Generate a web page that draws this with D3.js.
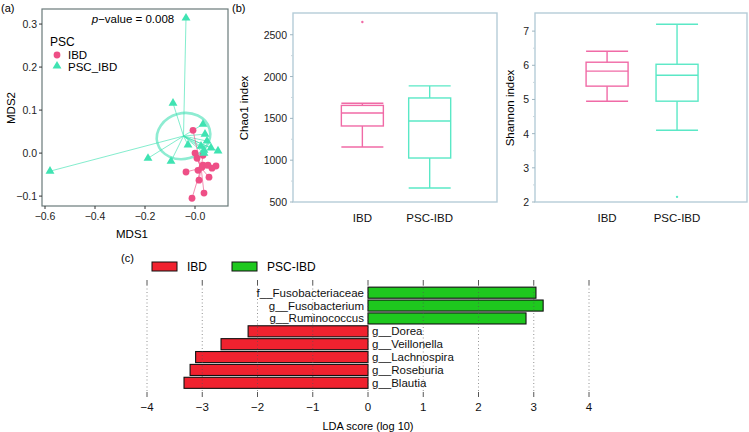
<!DOCTYPE html>
<html><head><meta charset="utf-8">
<script src="https://cdn.jsdelivr.net/npm/d3@7"></script>
<style>
body{margin:0;background:#fff}
svg{font-family:"Liberation Sans",Arial,Helvetica,sans-serif;display:block}
</style></head>
<body><svg id="c" width="749" height="432"></svg>
<script>
// ---------- DATA ----------
// (a) PCoA / MDS ordination
const ibdMDS1 = [-0.008, 0.000, 0.032, 0.008, 0.032, 0.052, 0.084, 0.068, -0.036, 0.012, 0.028, 0.056, 0.016, 0.036, -0.012];
const ibdMDS2 = [0.053, 0.000, -0.005, -0.012, -0.028, -0.028, -0.030, -0.035, -0.044, -0.040, -0.033, -0.056, -0.063, -0.093, -0.105];
const pscMDS1 = [-0.036, -0.088, 0.032, 0.040, 0.048, -0.028, 0.024, 0.064, 0.092, 0.036, -0.188, -0.096, -0.580, 0.036];
const pscMDS2 = [0.314, 0.116, 0.067, 0.044, 0.028, 0.019, 0.016, 0.012, 0.005, 0.007, -0.012, -0.019, -0.042, 0.000];
const pscEllipseRadii = [0.108, 0.053];
const mdsXTicks = [-0.6, -0.4, -0.2, 0.0];
const mdsXTickLabels = ["\u22120.6", "\u22120.4", "\u22120.2", "\u22120.0"];
const mdsYTicks = [0.3, 0.2, 0.1, 0.0, -0.1];
const mdsYTickLabels = ["0.3", "0.2", "0.1", "0.0", "\u22120.1"];
const legendGroups = ["IBD", "PSC_IBD"];

// (b) alpha diversity boxplots: [lowerWhisker, Q1, median, Q3, upperWhisker]
const boxGroups = ["IBD", "PSC-IBD"];
const chao1Stats = [[1158, 1409, 1565, 1655, 1680], [667, 1026, 1469, 1744, 1888]];
const chao1Outliers = [[2653], []];
const chao1Ticks = [500, 1000, 1500, 2000, 2500];
const shannonStats = [[4.95, 5.39, 5.83, 6.09, 6.41], [4.10, 4.95, 5.71, 6.03, 7.20]];
const shannonOutliers = [[], [2.15]];
const shannonTicks = [2, 3, 4, 5, 6, 7];

// (c) LEfSe LDA scores
const ldaTaxa = ["f__Fusobacteriaceae", "g__Fusobacterium", "g__Ruminococcus", "g__Dorea", "g__Veillonella", "g__Lachnospira", "g__Roseburia", "g__Blautia"];
const ldaScores = [3.04, 3.17, 2.86, -2.17, -2.66, -3.12, -3.22, -3.33];
const ldaTicks = [-4, -3, -2, -1, 0, 1, 2, 3, 4];
const ldaLegend = ["IBD", "PSC-IBD"];

// ---------- STYLE ----------
const pink = "#ee4f86", mint = "#3fe3b2", ellipseCol = "#8eecd2";
const boxPink = "#f06aa6", boxMint = "#5ae8c6";
const redBar = "#f0222f", greenBar = "#1ec81e";
const svg = d3.select("#c");

// ---------- (a) ----------
(function(){
  const L = 42, R = 228, T = 9, B = 206;
  const x = d3.scaleLinear().domain([-0.612, 0.132]).range([L, R]);
  const y = d3.scaleLinear().domain([-0.123, 0.335]).range([B, T]);
  const g = svg.append("g");
  g.append("text").attr("x", 1).attr("y", 12).attr("font-size", 11).text("(a)");
  g.append("rect").attr("x", L).attr("y", T).attr("width", R - L).attr("height", B - T)
    .attr("fill", "none").attr("stroke", "#6a7a7a").attr("stroke-width", 1.2);
  // ticks
  mdsXTicks.forEach((t, i) => {
    g.append("line").attr("x1", x(t)).attr("x2", x(t)).attr("y1", B).attr("y2", B + 3).attr("stroke", "#333");
    g.append("text").attr("x", x(t)).attr("y", B + 14).attr("text-anchor", "middle").attr("font-size", 10.5).attr("fill", "#222").text(mdsXTickLabels[i]);
  });
  mdsYTicks.forEach((t, i) => {
    g.append("line").attr("x1", L - 3).attr("x2", L).attr("y1", y(t)).attr("y2", y(t)).attr("stroke", "#333");
    g.append("text").attr("x", L - 5).attr("y", y(t) + 4).attr("text-anchor", "end").attr("font-size", 10.5).attr("fill", "#222").text(mdsYTickLabels[i]);
  });
  g.append("text").attr("x", 132).attr("y", 238).attr("text-anchor", "middle").attr("font-size", 11.5).text("MDS1");
  g.append("text").attr("transform", "translate(15,108) rotate(-90)").attr("text-anchor", "middle").attr("font-size", 11.5).text("MDS2");
  const pv = g.append("text").attr("x", 133).attr("y", 23).attr("text-anchor", "middle").attr("font-size", 11.5);
  pv.append("tspan").attr("font-style", "italic").text("p");
  pv.append("tspan").text("\u2212value = 0.008");

  const ibd = ibdMDS1.map((v, i) => [v, ibdMDS2[i]]);
  const psc = pscMDS1.map((v, i) => [v, pscMDS2[i]]);
  const cI = [d3.mean(ibdMDS1), d3.mean(ibdMDS2)];
  const cP = [d3.mean(pscMDS1), d3.mean(pscMDS2)];
  // ellipse
  g.append("ellipse").attr("cx", x(cP[0])).attr("cy", y(cP[1]))
    .attr("rx", x(cP[0] + pscEllipseRadii[0]) - x(cP[0])).attr("ry", y(cP[1]) - y(cP[1] + pscEllipseRadii[1]))
    .attr("fill", "none").attr("stroke", ellipseCol).attr("stroke-width", 2.6)
    .attr("transform", `rotate(-15 ${x(cP[0])} ${y(cP[1])})`);
  // spiders
  psc.forEach(p => g.append("line").attr("x1", x(cP[0])).attr("y1", y(cP[1])).attr("x2", x(p[0])).attr("y2", y(p[1]))
    .attr("stroke", mint).attr("stroke-width", 0.8).attr("opacity", 0.8));
  ibd.forEach(p => g.append("line").attr("x1", x(cI[0])).attr("y1", y(cI[1])).attr("x2", x(p[0])).attr("y2", y(p[1]))
    .attr("stroke", pink).attr("stroke-width", 0.8).attr("opacity", 0.8));
  const tri = d3.symbol().type(d3.symbolTriangle).size(34);
  ibd.forEach(p => g.append("circle").attr("cx", x(p[0])).attr("cy", y(p[1])).attr("r", 3.4).attr("fill", pink));
  psc.forEach(p => g.append("path").attr("d", tri).attr("transform", `translate(${x(p[0])},${y(p[1])})`).attr("fill", mint));
  // legend
  g.append("text").attr("x", 50).attr("y", 46).attr("font-size", 12).text("PSC");
  g.append("circle").attr("cx", 57).attr("cy", 55).attr("r", 3.4).attr("fill", pink);
  g.append("path").attr("d", tri).attr("transform", "translate(57,66)").attr("fill", mint);
  legendGroups.forEach((s, i) => g.append("text").attr("x", 68).attr("y", 59 + i * 11.5).attr("font-size", 11.5).text(s));
})();

// ---------- (b) ----------
function boxPanel(L, R, domain, ticks, stats, outliers, label, labelX, minor) {
  const T = 13, B = 202;
  const y = d3.scaleLinear().domain(domain).range([B, T]);
  const x = d3.scalePoint().domain(boxGroups).range([L + (R - L) * 0.34, L + (R - L) * 0.67]);
  const g = svg.append("g");
  g.append("rect").attr("x", L).attr("y", T).attr("width", R - L).attr("height", B - T)
    .attr("fill", "none").attr("stroke", "#b5ccd8").attr("stroke-width", 1.4);
  minor.forEach(t => g.append("line").attr("x1", L - 2).attr("x2", L).attr("y1", y(t)).attr("y2", y(t)).attr("stroke", "#c8d6dd"));
  ticks.forEach(t => {
    g.append("line").attr("x1", L - 3).attr("x2", L).attr("y1", y(t)).attr("y2", y(t)).attr("stroke", "#9fb5c0");
    g.append("text").attr("x", L - 6).attr("y", y(t) + 4).attr("text-anchor", "end").attr("font-size", 10.5).attr("fill", "#222").text(t);
  });
  g.append("text").attr("transform", `translate(${labelX},108) rotate(-90)`).attr("text-anchor", "middle").attr("font-size", 11.5).text(label);
  const w = 42;
  boxGroups.forEach((grp, i) => {
    const s = stats[i], cx = x(grp), col = i === 0 ? boxPink : boxMint;
    const gg = g.append("g").attr("stroke", col).attr("stroke-width", 1.4).attr("fill", "none");
    gg.append("line").attr("x1", cx).attr("x2", cx).attr("y1", y(s[0])).attr("y2", y(s[1]));
    gg.append("line").attr("x1", cx).attr("x2", cx).attr("y1", y(s[3])).attr("y2", y(s[4]));
    gg.append("line").attr("x1", cx - w / 2).attr("x2", cx + w / 2).attr("y1", y(s[0])).attr("y2", y(s[0]));
    gg.append("line").attr("x1", cx - w / 2).attr("x2", cx + w / 2).attr("y1", y(s[4])).attr("y2", y(s[4]));
    gg.append("rect").attr("x", cx - w / 2).attr("y", y(s[3])).attr("width", w).attr("height", y(s[1]) - y(s[3]));
    gg.append("line").attr("x1", cx - w / 2).attr("x2", cx + w / 2).attr("y1", y(s[2])).attr("y2", y(s[2]));
    outliers[i].forEach(o => g.append("circle").attr("cx", cx).attr("cy", y(o)).attr("r", 1.2).attr("fill", col));
    g.append("text").attr("x", cx).attr("y", 222).attr("text-anchor", "middle").attr("font-size", 11.5).attr("fill", "#111").text(grp);
  });
}
svg.append("text").attr("x", 232).attr("y", 12).attr("font-size", 11).text("(b)");
boxPanel(293, 497, [500, 2760], chao1Ticks, chao1Stats, chao1Outliers, "Chao1 index", 248, [750, 1250, 1750, 2250]);
boxPanel(535, 747, [2, 7.53], shannonTicks, shannonStats, shannonOutliers, "Shannon index", 514, [2.5, 3.5, 4.5, 5.5, 6.5]);

// ---------- (c) ----------
(function(){
  const x = d3.scaleLinear().domain([-4, 4]).range([147, 589]);
  const y = d3.scaleBand().domain(ldaTaxa).range([286.5, 389]).paddingInner(0.14).paddingOuter(0.05);
  const g = svg.append("g");
  g.append("text").attr("x", 121).attr("y", 262).attr("font-size", 11).text("(c)");
  // legend
  [redBar, greenBar].forEach((c, i) => {
    const lx = i === 0 ? 152 : 232;
    g.append("rect").attr("x", lx).attr("y", 262).attr("width", 25).attr("height", 9).attr("fill", c).attr("stroke", "#111").attr("stroke-width", 1);
    g.append("text").attr("x", lx + 35).attr("y", 271).attr("font-size", 12).text(ldaLegend[i]);
  });
  // bars
  ldaTaxa.forEach((t, i) => {
    const v = ldaScores[i];
    g.append("rect").attr("x", x(Math.min(0, v))).attr("y", y(t)).attr("width", Math.abs(x(v) - x(0))).attr("height", y.bandwidth())
      .attr("fill", v > 0 ? greenBar : redBar).attr("stroke", "#111").attr("stroke-width", 1.1);
    g.append("text").attr("x", v > 0 ? x(0) - 4 : x(0) + 4).attr("y", y(t) + y.bandwidth() / 2 + 4)
      .attr("text-anchor", v > 0 ? "end" : "start").attr("font-size", 11.5).attr("fill", "#111").text(t);
  });
  // grid & ticks
  ldaTicks.forEach(t => {
    const xx = x(t);
    g.append("line").attr("x1", xx).attr("x2", xx).attr("y1", 280).attr("y2", 285).attr("stroke", "#444").attr("stroke-width", 0.9);
    g.append("line").attr("x1", xx).attr("x2", xx).attr("y1", 285).attr("y2", 392).attr("stroke", "#555").attr("stroke-width", 0.9).attr("stroke-dasharray", "1,2.5").attr("opacity", 0.7);
    g.append("line").attr("x1", xx).attr("x2", xx).attr("y1", 392).attr("y2", 397).attr("stroke", "#444").attr("stroke-width", 0.9);
    g.append("text").attr("x", xx).attr("y", 411).attr("text-anchor", "middle").attr("font-size", 11.5).attr("fill", "#111")
      .text(t < 0 ? "\u2212" + Math.abs(t) : String(t));
  });
  g.append("text").attr("x", x(0)).attr("y", 430).attr("text-anchor", "middle").attr("font-size", 11).text("LDA score (log 10)");
})();
</script></body></html>
